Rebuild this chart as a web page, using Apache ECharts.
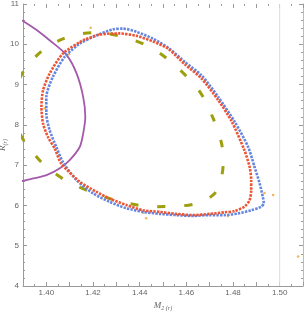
<!DOCTYPE html>
<html>
<head>
<meta charset="utf-8">
<script src="https://cdn.jsdelivr.net/npm/echarts@6/dist/echarts.min.js"></script>
<style>html,body{margin:0;padding:0;background:#fff}#c{width:304px;height:327px}</style>
</head>
<body>
<div id="c"></div>
<script>
// ---- data ----
var blueM = [1.4143,1.4214,1.4285,1.4328,1.4386,1.4457,1.4528,1.4594,1.4665,1.4737,1.4808,1.4865,1.4892,1.4914,1.4928,1.4932,1.4921,1.4878,1.4821,1.4764,1.4700,1.4628,1.4557,1.4485,1.4414,1.4343,1.4271,1.4200,1.4129,1.4071,1.4043,1.4014,1.4000,1.4000,1.4028,1.4079,1.4143];
var blueR = [10.02,10.22,10.37,10.39,10.31,10.14,9.89,9.56,9.23,8.69,8.07,7.45,6.96,6.55,6.21,6.05,5.97,5.88,5.80,5.76,5.76,5.74,5.76,5.79,5.84,5.93,6.09,6.30,6.63,7.08,7.45,7.87,8.28,8.69,9.19,9.69,10.02];

var redM = [1.4157,1.4228,1.4314,1.4386,1.4457,1.4522,1.4594,1.4665,1.4737,1.4794,1.4849,1.4871,1.4878,1.4878,1.4871,1.4849,1.4807,1.4764,1.4700,1.4628,1.4557,1.4485,1.4414,1.4343,1.4271,1.4214,1.4143,1.4064,1.4036,1.4007,1.3986,1.3979,1.3986,1.4014,1.4071,1.4157];
var redR = [10.10,10.24,10.27,10.21,10.07,9.89,9.50,9.15,8.61,8.09,7.37,6.96,6.63,6.38,6.13,5.97,5.86,5.83,5.79,5.76,5.79,5.84,5.88,6.01,6.17,6.34,6.59,7.04,7.41,7.70,8.03,8.45,8.86,9.27,9.77,10.10];

var greenM = [1.3885,1.3915,1.3993,1.4100,1.4214,1.4340,1.4460,1.4566,1.4658,1.4715,1.4751,1.4758,1.4744,1.4715,1.4644,1.4558,1.4465,1.4328,1.4207,1.4086,1.3986,1.3907,1.3885];
var greenR = [9.15,9.44,9.89,10.20,10.29,10.17,9.88,9.40,8.82,8.16,7.54,7.04,6.55,6.26,6.05,5.98,5.97,6.08,6.30,6.61,7.03,7.58,7.80];

var purpleM = [1.3885,1.3900,1.3957,1.4014,1.4087,1.4130,1.4158,1.4167,1.4158,1.4143,1.4101,1.4058,1.4001,1.3944,1.3900,1.3885];
var purpleR = [10.62,10.58,10.36,10.10,9.73,9.27,8.69,8.20,7.79,7.45,7.13,6.92,6.75,6.67,6.61,6.60];

var orangeM = [1.4190,1.4097,1.3993,1.4079,1.4414,1.4428,1.4564,1.4778,1.4892,1.4935,1.4972,1.5079];
var orangeR = [10.41,9.75,8.41,7.00,5.82,5.68,5.76,5.74,6.96,6.31,6.26,4.73];

var refLineM = 1.50;
var xMin = 1.39, xMax = 1.51, xStep = 0.01;
var yMin = 4, yMax = 11, yStep = 1;

function zip(a, b) { return a.map(function (v, i) { return [v, b[i]]; }); }

var axisGray = '#9a9a9a';
var labelGray = '#666';
var fontFam = '"Liberation Sans", Arial, sans-serif';
var serif = '"Liberation Serif", serif';

var chart = echarts.init(document.getElementById('c'), null, {renderer: 'canvas'});
var xBase = {
  type: 'value', min: xMin, max: xMax, interval: xStep,
  splitLine: {show: false},
  axisTick: {show: true, inside: true, length: 4, lineStyle: {color: axisGray}},
  minorTick: {show: true, splitNumber: 2, length: 2, lineStyle: {color: axisGray}},
  minorSplitLine: {show: false}
};
var yBase = {
  type: 'value', min: yMin, max: yMax, interval: yStep,
  splitLine: {show: false},
  axisTick: {show: true, inside: true, length: 4, lineStyle: {color: axisGray}},
  minorTick: {show: true, splitNumber: 5, length: 2, lineStyle: {color: axisGray}},
  minorSplitLine: {show: false}
};
var option = {
  animation: false,
  backgroundColor: '#fff',
  grid: {left: 23, right: 1, top: 4, bottom: 41, containLabel: false, outerBoundsMode: 'none'},
  xAxis: [
    Object.assign({}, xBase, {
      position: 'bottom',
      axisLine: {show: true, lineStyle: {color: axisGray, width: 1}},
      axisLabel: {show: true, color: labelGray, fontSize: 8, fontFamily: fontFam, margin: 3,
        formatter: function (v) { return (Math.round(v * 100) % 2 === 0) ? v.toFixed(2) : ''; }},
      name: '{i|M}{s|2 (r)}', nameLocation: 'middle', nameGap: 15, nameMoveOverlap: false,
      nameTextStyle: {color: labelGray, fontSize: 9, rich: {
        i: {fontSize: 9, fontStyle: 'italic', color: labelGray, fontFamily: serif},
        s: {fontSize: 6, fontStyle: 'italic', color: labelGray, fontFamily: serif, verticalAlign: 'bottom', padding: [4, 0, 0, 0]}
      }}
    }),
    Object.assign({}, xBase, {
      position: 'top',
      axisLine: {show: false},
      axisLabel: {show: false}
    })
  ],
  yAxis: [
    Object.assign({}, yBase, {
      position: 'left',
      axisLine: {show: true, lineStyle: {color: axisGray, width: 1}},
      axisLabel: {show: true, color: labelGray, fontSize: 8, fontFamily: fontFam, margin: 4},
      name: '{i|R}{s|(r)}', nameLocation: 'middle', nameGap: 15, nameRotate: 90, nameMoveOverlap: false,
      nameTextStyle: {color: labelGray, fontSize: 9, rich: {
        i: {fontSize: 9, fontStyle: 'italic', color: labelGray, fontFamily: serif},
        s: {fontSize: 6, fontStyle: 'italic', color: labelGray, fontFamily: serif, verticalAlign: 'bottom', padding: [4, 0, 0, 0]}
      }}
    }),
    Object.assign({}, yBase, {
      position: 'right',
      axisLine: {show: true, lineStyle: {color: '#bbb', width: 1}},
      axisLabel: {show: false}
    })
  ],
  series: [
    {
      type: 'line', data: [[refLineM, yMin], [refLineM, yMax]],
      showSymbol: false, silent: true,
      lineStyle: {color: '#dcdcdc', width: 1}
    },
    {
      type: 'line', data: zip(greenM, greenR), showSymbol: false, smooth: 0.3, clip: true,
      lineStyle: {color: '#9e9f0e', width: 3, type: [8, 19], cap: 'butt'}
    },
    {
      type: 'line', data: zip(purpleM, purpleR), showSymbol: false, smooth: 0.3, clip: true,
      lineStyle: {color: '#a45aaa', width: 1.8}
    },
    {
      type: 'line', data: zip(blueM, blueR), showSymbol: false, smooth: 0.25, clip: true,
      lineStyle: {color: '#6486e0', width: 2.6, type: [2.4, 1.2]}
    },
    {
      type: 'line', data: zip(redM, redR), showSymbol: false, smooth: 0.25, clip: true,
      lineStyle: {color: '#ec5434', width: 2.6, type: [2.4, 1.2]}
    },
    {
      type: 'scatter', data: zip(orangeM, orangeR), symbolSize: 2.5,
      itemStyle: {color: '#f0a232'}
    }
  ]
};
chart.setOption(option);
</script>
</body>
</html>
